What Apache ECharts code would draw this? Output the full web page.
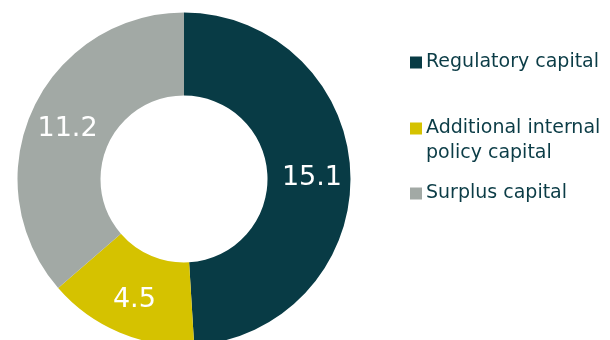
<!DOCTYPE html>
<html><head><meta charset="utf-8">
<script src="https://cdn.jsdelivr.net/npm/echarts@6/dist/echarts.min.js"></script>
<style>html,body{margin:0;padding:0;background:#fff}#c{width:610px;height:340px}</style>
</head><body><div id="c"></div>
<script>
const categories = ['Regulatory capital', 'Additional internal policy capital', 'Surplus capital'];
const values = [15.1, 4.5, 11.2];
const colors = ['#083b45', '#d5c200', '#a2a9a5'];
const legendLabels = ['Regulatory capital', 'Additional internal', 'Surplus capital'];
const legendSecondLine = 'policy capital';

const chart = echarts.init(document.getElementById('c'), null, {renderer: 'canvas'});
const font = 'DejaVu Sans';
const textColor = '#0b3c46';
const legendTops = [53, 119, 184];
const legends = categories.map((name, i) => ({
  data: [name],
  left: 410,
  top: legendTops[i],
  padding: 0,
  orient: 'vertical',
  icon: 'rect',
  itemWidth: 12,
  itemHeight: 12,
  selectedMode: false,
  formatter: () => legendLabels[i],
  textStyle: {fontFamily: font, fontSize: 19, color: textColor, padding: [0, 0, 0, -1]}
}));
chart.setOption({
  animation: false,
  color: colors,
  legend: legends,
  graphic: [{
    type: 'text', left: 426, top: 144,
    style: {text: legendSecondLine, fontFamily: font, fontSize: 19, fill: textColor}
  }],
  series: [{
    type: 'pie',
    center: [184, 179],
    radius: [83.5, 166.5],
    startAngle: 90,
    clockwise: true,
    avoidLabelOverlap: false,
    label: {
      show: true, position: 'inside', formatter: p => p.value.toFixed(1),
      fontFamily: font, fontSize: 27, color: '#ffffff', offset: [0, 3]
    },
    labelLine: {show: false},
    emphasis: {disabled: true},
    data: categories.map((n, i) => ({name: n, value: values[i]}))
  }]
});
</script></body></html>
